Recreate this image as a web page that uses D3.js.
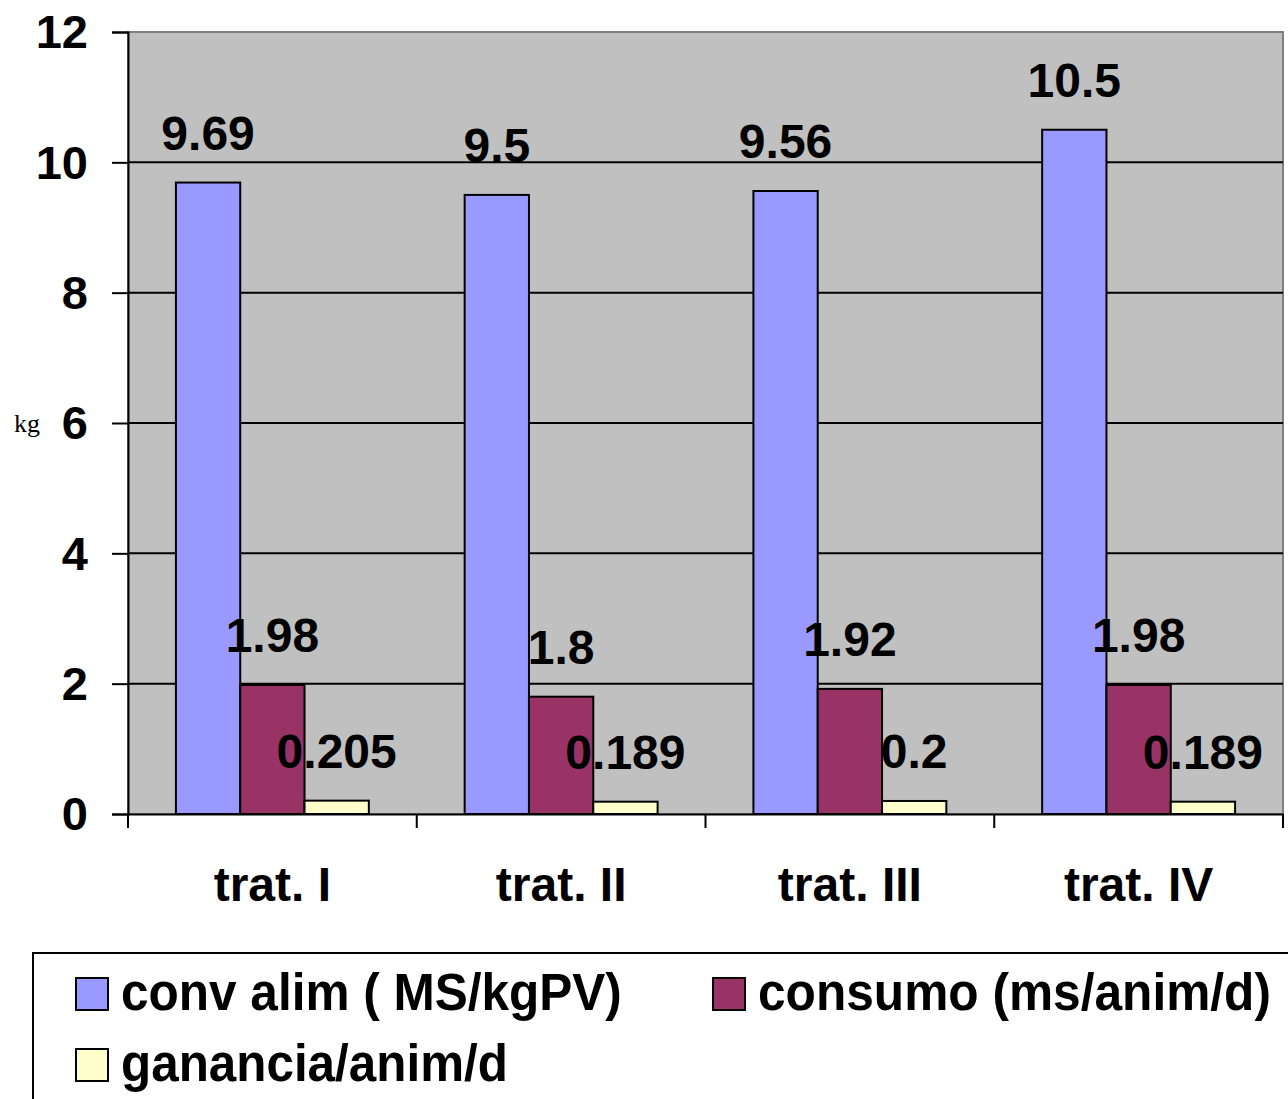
<!DOCTYPE html>
<html>
<head>
    <script src="https://d3js.org/d3.v7.min.js"></script>
    <style>
        body { margin: 0; background: #fff; }
        svg { display: block; }
        .bold { font-family: "Liberation Sans", Arial, sans-serif; font-weight: bold; }
        .narrow { font-family: "Liberation Sans Narrow", "Arial Narrow", "Liberation Sans", sans-serif; font-weight: bold; }
    </style>
</head>
<body>
    <svg id="chart" width="1288" height="1099"></svg>
    <script>
        const categories = ["trat. I", "trat. II", "trat. III", "trat. IV"];
        const seriesNames = ["conv alim ( MS/kgPV)", "consumo (ms/anim/d)", "ganancia/anim/d"];
        const convAlim = [9.69, 9.5, 9.56, 10.5];
        const consumo = [1.98, 1.8, 1.92, 1.98];
        const ganancia = [0.205, 0.189, 0.2, 0.189];
        const yTicks = [0, 2, 4, 6, 8, 10, 12];
        const colors = ["#9999FF", "#993366", "#FFFFCC"];

        const seriesValues = [convAlim, consumo, ganancia];

        const svg = d3.select("#chart");
        const plotLeft = 128, plotRight = 1283, plotTop = 32, plotBottom = 814;

        const x0 = d3.scaleBand().domain(categories).range([plotLeft, plotRight]).padding(0);
        const x1 = d3.scaleBand().domain(seriesNames).range([0, x0.bandwidth()])
            .paddingInner(0).paddingOuter(0.745);
        const y = d3.scaleLinear().domain([0, 12]).range([plotBottom, plotTop]);

        // plot background
        svg.append("rect")
            .attr("x", plotLeft).attr("y", plotTop)
            .attr("width", plotRight - plotLeft).attr("height", plotBottom - plotTop)
            .attr("fill", "#C0C0C0")
            .attr("stroke", "#808080").attr("stroke-width", 2);

        // gridlines
        svg.append("g").selectAll("line")
            .data(yTicks.filter(d => d > 0 && d < 12))
            .join("line")
            .attr("x1", plotLeft).attr("x2", plotRight)
            .attr("y1", d => y(d)).attr("y2", d => y(d))
            .attr("stroke", "#000").attr("stroke-width", 2);

        // bars
        const groups = svg.append("g").selectAll("g")
            .data(categories)
            .join("g")
            .attr("transform", d => `translate(${x0(d)},0)`);

        const rows = (c, i) => seriesNames.map((s, k) => ({ s, k, v: seriesValues[k][i] }));

        groups.selectAll("rect")
            .data(rows)
            .join("rect")
            .attr("x", d => x1(d.s))
            .attr("width", x1.bandwidth())
            .attr("y", d => y(d.v))
            .attr("height", d => y(0) - y(d.v))
            .attr("fill", d => colors[d.k])
            .attr("stroke", "#000").attr("stroke-width", 2);

        groups.selectAll("text")
            .data(rows)
            .join("text")
            .attr("class", "bold")
            .attr("x", d => x1(d.s) + x1.bandwidth() / 2)
            .attr("y", d => y(d.v) - 33)
            .attr("text-anchor", "middle")
            .attr("font-size", 48)
            .text(d => d.v);

        // y axis
        const yAxis = svg.append("g")
            .attr("transform", `translate(${plotLeft},0)`)
            .call(d3.axisLeft(y).tickValues(yTicks).tickSize(16).tickPadding(24));
        yAxis.select(".domain").attr("stroke-width", 2);
        yAxis.selectAll(".tick line").attr("stroke-width", 2);
        yAxis.selectAll("text").attr("class", "bold").attr("font-size", 47).attr("dy", "0.34em");

        // x axis
        const xAxis = svg.append("g")
            .attr("transform", `translate(0,${plotBottom})`)
            .call(d3.axisBottom(x0).tickSize(0).tickPadding(53));
        xAxis.select(".domain").attr("stroke-width", 2);
        xAxis.selectAll("text").attr("class", "bold").attr("font-size", 48);
        xAxis.selectAll(".sep")
            .data(d3.range(categories.length + 1))
            .join("line")
            .attr("class", "sep")
            .attr("x1", i => plotLeft + i * x0.step()).attr("x2", i => plotLeft + i * x0.step())
            .attr("y1", 0).attr("y2", 14)
            .attr("stroke", "#000").attr("stroke-width", 2);

        // y label
        svg.append("text")
            .attr("x", 27).attr("y", 432)
            .attr("text-anchor", "middle")
            .attr("font-family", "Liberation Serif, serif")
            .attr("font-size", 26)
            .text("kg");

        // legend
        svg.append("rect")
            .attr("x", 33).attr("y", 953)
            .attr("width", 1300).attr("height", 200)
            .attr("fill", "#fff").attr("stroke", "#000").attr("stroke-width", 2);

        const legendPos = [[76, 978], [713, 978], [76, 1049]];
        const legendWidths = [501, 513, 387];
        const legend = svg.append("g").selectAll("g")
            .data(seriesNames)
            .join("g")
            .attr("transform", (d, i) => `translate(${legendPos[i][0]},${legendPos[i][1]})`);
        legend.append("rect")
            .attr("width", 32).attr("height", 32)
            .attr("fill", (d, i) => colors[i])
            .attr("stroke", "#000").attr("stroke-width", 2);
        // condensed look: squeeze the bold text horizontally to the reference width
        legend.append("text")
            .attr("class", "narrow")
            .attr("font-size", 52)
            .text(d => d)
            .attr("transform", function (d, i) {
                const w = this.getComputedTextLength();
                return `translate(45,32) scale(${legendWidths[i] / w},1)`;
            });
    </script>
</body>
</html>
